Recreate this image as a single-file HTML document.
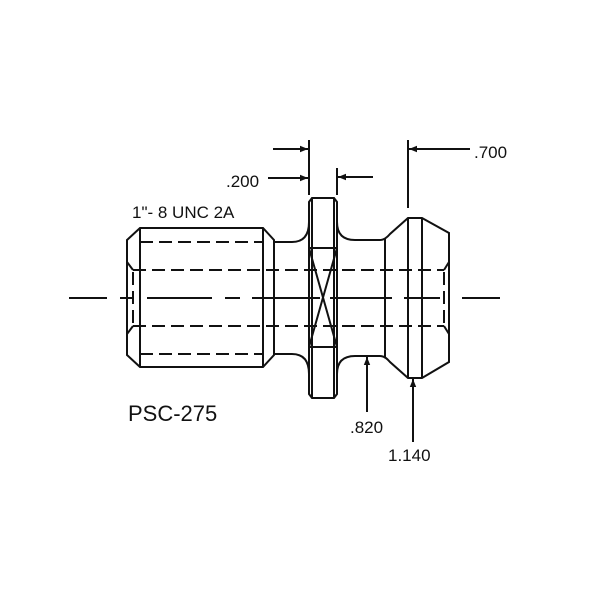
<!DOCTYPE html>
<html><head><style>html,body{margin:0;padding:0;background:#fff}svg{display:block}</style></head>
<body>
<svg width="600" height="600" viewBox="0 0 600 600" xmlns="http://www.w3.org/2000/svg">
<defs><marker id="a" viewBox="0 0 10 10" refX="10" refY="5" markerWidth="16" markerHeight="8" markerUnits="userSpaceOnUse" orient="auto"><path d="M0,1 L10,5 L0,9 Z" fill="#111"/></marker></defs>
<g fill="none" stroke="#111" stroke-width="2">
<path d="M127,240 L140,228 L263,228 L274,240 L274,355 L263,367 L140,367 L127,355 Z"/>
<line x1="140" y1="228" x2="140" y2="367"/>
<line x1="263" y1="228" x2="263" y2="367"/>
<path d="M274,242 L292,242 Q309,242 309,222"/>
<path d="M274,354 L292,354 Q309,354 309,374"/>
<path d="M312,198 L334,198 L337,202 L337,394 L334,398 L312,398 L309,394 L309,202 Z"/>
<line x1="312" y1="198" x2="312" y2="398"/>
<line x1="334" y1="198" x2="334" y2="398"/>
<line x1="309" y1="248" x2="337" y2="248"/>
<line x1="309" y1="347" x2="337" y2="347"/>
<path d="M309,248 L337,347 M337,248 L309,347"/>
<path d="M337,222 Q337,240 355,240 L380,240 Q385,240 390,234 L408,218 L422,218 L449,233 L449,362 L422,378 L408,378 L390,362 Q385,356 380,356 L355,356 Q337,356 337,374"/>
<line x1="385" y1="238" x2="385" y2="358"/>
<line x1="408" y1="218" x2="408" y2="378"/>
<line x1="422" y1="218" x2="422" y2="378"/>
<line x1="309" y1="140" x2="309" y2="195"/>
<line x1="337" y1="168" x2="337" y2="195"/>
<line x1="408" y1="140" x2="408" y2="208"/>
<line x1="273" y1="149" x2="308" y2="149" marker-end="url(#a)"/>
<line x1="268" y1="178" x2="308" y2="178" marker-end="url(#a)"/>
<line x1="373" y1="177" x2="338" y2="177" marker-end="url(#a)"/>
<line x1="470" y1="149" x2="409" y2="149" marker-end="url(#a)"/>
<line x1="367" y1="412" x2="367" y2="357" marker-end="url(#a)"/>
<line x1="413" y1="442" x2="413" y2="379" marker-end="url(#a)"/>
</g>
<g fill="none" stroke="#111" stroke-width="2" stroke-dasharray="13,6">
<line x1="140" y1="242" x2="263" y2="242"/>
<line x1="140" y1="354" x2="263" y2="354"/>
<line x1="133" y1="270" x2="444" y2="270"/>
<line x1="133" y1="326" x2="444" y2="326"/>
<line x1="133" y1="272" x2="133" y2="324"/>
<line x1="444" y1="272" x2="444" y2="324"/>
</g>
<g fill="none" stroke="#111" stroke-width="2">
<path d="M127,262 L133,270 M127,334 L133,326 M449,262 L444,270 M449,334 L444,326"/>
<path d="M69,298 H107 M120,298 H133 M147,298 H212 M225,298 H240 M252,298 H320 M330,298 H392 M404,298 H440 M462,298 H500"/>
</g>
<g font-family="Liberation Sans, sans-serif" fill="#111">
<text x="132" y="218" font-size="17">1"- 8 UNC 2A</text>
<text x="226" y="187" font-size="17">.200</text>
<text x="474" y="158" font-size="17">.700</text>
<text x="350" y="433" font-size="17">.820</text>
<text x="388" y="461" font-size="17">1.140</text>
<text x="128" y="421" font-size="22">PSC-275</text>
</g>
</svg>
</body></html>
